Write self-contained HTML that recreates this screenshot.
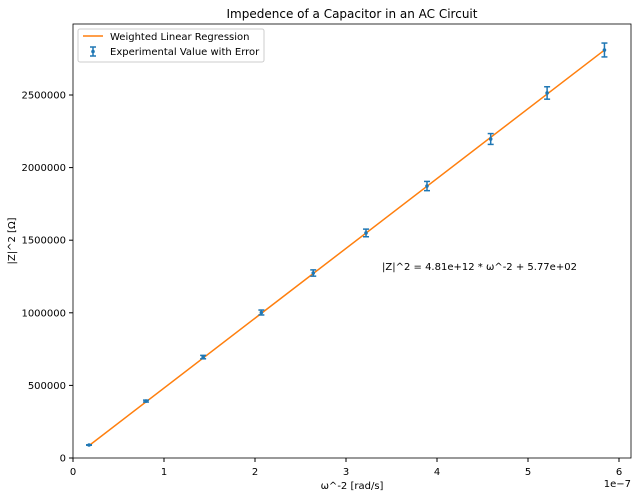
<!DOCTYPE html>
<html><head><meta charset="utf-8"><style>
body{margin:0;background:#fff;font-family:"DejaVu Sans","Liberation Sans",sans-serif}
svg text{font-family:"DejaVu Sans","Liberation Sans",sans-serif;fill:#000}
</style></head><body>
<svg id="chart" width="641" height="496"></svg>
<script>
const xVals=[0.176,0.802,1.43,2.07,2.64,3.22,3.89,4.59,5.21,5.84];
const yVals=[89500,392000,695000,1002000,1274000,1550000,1873000,2197000,2514000,2810000];
const yErr=[1500,6600,11800,17000,21600,26300,31800,37300,42700,47800];
const xTicks=[0,1,2,3,4,5,6];
const yTicks=[0,500000,1000000,1500000,2000000,2500000];
const slope=4.81e12, intercept=577;
const L=73,R=631,T=24,B=458;
const sx=v=>L+v*91;
const sy=v=>B-v*72.6/500000;
const svg=document.getElementById('chart');
const NS='http://www.w3.org/2000/svg';
function mk(tag,attrs,parent){const e=document.createElementNS(NS,tag);for(const k in attrs)e.setAttribute(k,attrs[k]);(parent||svg).appendChild(e);return e;}
const frame=mk('rect',{x:L,y:T,width:R-L,height:B-T,fill:'none',stroke:'#000','stroke-width':0.8});


xTicks.forEach(t=>{const x=sx(t);mk('line',{x1:x,x2:x,y1:B,y2:B+4,stroke:'#000'});
const tx=mk('text',{x:x,y:B+17,'font-size':10,'text-anchor':'middle'});tx.textContent=t;

});
yTicks.forEach(t=>{const y=sy(t);mk('line',{x1:L-4,x2:L,y1:y,y2:y,stroke:'#000'});
const tx=mk('text',{x:L-7,y:y+3.5,'font-size':10,'text-anchor':'end'});tx.textContent=t;

});
const ex=mk('text',{x:R,y:B+29,'font-size':10,'text-anchor':'end'});ex.textContent='1e\u22127';


const xt=mk('text',{x:(L+R)/2,y:489,'font-size':10,'text-anchor':'middle'});xt.textContent='ω^-2 [rad/s]';


const yt=mk('text',{x:15,y:(T+B)/2,'font-size':10,'text-anchor':'middle',transform:`rotate(-90 15 ${(T+B)/2})`});yt.textContent='|Z|^2 [Ω]';


const ti=mk('text',{x:(L+R)/2,y:18,'font-size':12,'text-anchor':'middle'});ti.textContent='Impedence of a Capacitor in an AC Circuit';


const x0=xVals[0],x1=xVals[xVals.length-1];
const fit=mk('line',{x1:sx(x0),y1:sy(slope*x0*1e-7+intercept),x2:sx(x1),y2:sy(slope*x1*1e-7+intercept),stroke:'#ff7f0e','stroke-width':1.5});


xVals.forEach((xv,i)=>{const g=mk('g',{});


const x=sx(xv),ya=sy(yVals[i]+yErr[i]),yb=sy(yVals[i]-yErr[i]);
mk('line',{x1:x,x2:x,y1:ya,y2:yb,stroke:'#1f77b4','stroke-width':1.5},g);
mk('line',{x1:x-3,x2:x+3,y1:ya,y2:ya,stroke:'#1f77b4','stroke-width':1.5},g);
mk('line',{x1:x-3,x2:x+3,y1:yb,y2:yb,stroke:'#1f77b4','stroke-width':1.5},g);
mk('circle',{cx:x,cy:sy(yVals[i]),r:1.8,fill:'#1f77b4'},g);});
const ann=mk('text',{x:382,y:270,'font-size':10});ann.textContent='|Z|^2 = 4.81e+12 * ω^-2 + 5.77e+02';


const lg=mk('g',{});


mk('rect',{x:78,y:29,width:186,height:33,rx:2,fill:'#fff',stroke:'#ccc'},lg);
mk('line',{x1:83,x2:103,y1:36,y2:36,stroke:'#ff7f0e','stroke-width':1.5},lg);
const l1=mk('text',{x:110,y:40,'font-size':10},lg);l1.textContent='Weighted Linear Regression';
mk('line',{x1:93,x2:93,y1:47,y2:56,stroke:'#1f77b4','stroke-width':1.5},lg);
mk('line',{x1:90,x2:96,y1:47,y2:47,stroke:'#1f77b4','stroke-width':1.5},lg);
mk('line',{x1:90,x2:96,y1:56,y2:56,stroke:'#1f77b4','stroke-width':1.5},lg);
mk('circle',{cx:93,cy:51.5,r:1.8,fill:'#1f77b4'},lg);
const l2=mk('text',{x:110,y:55,'font-size':10},lg);l2.textContent='Experimental Value with Error';
</script>
</body></html>
